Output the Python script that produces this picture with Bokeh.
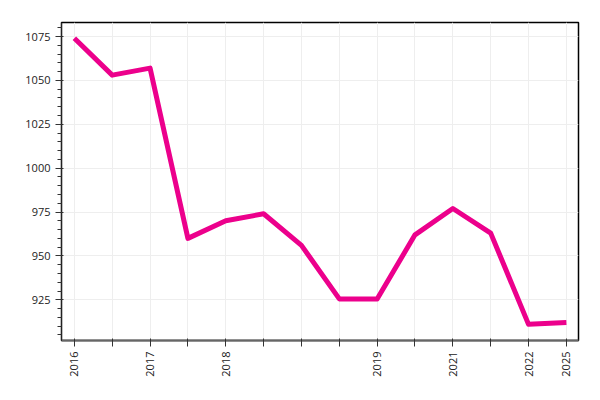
from bokeh.plotting import figure
from bokeh.models import FixedTicker, Range1d, SingleIntervalTicker
from bokeh.embed import file_html
from bokeh.resources import INLINE
import math

tick_labels = ["2016", "", "2017", "", "2018", "", "", "", "2019", "", "2021", "", "2022", "2025"]
values = [1074, 1053, 1057, 960, 970, 974, 956, 925.5, 925.5, 962, 977, 963, 911, 912]
xs = list(range(len(values)))

p = figure(width=584, height=392, output_backend="svg", toolbar_location=None,
           x_range=Range1d(-0.34, len(values) - 1 + 0.32), y_range=Range1d(901.8, 1083),
           min_border_left=61, min_border_right=6, min_border_top=22, min_border_bottom=52)

p.line(xs, values, line_color="#ec008c", line_width=5, line_join="round")

p.xaxis.ticker = FixedTicker(ticks=xs)
p.xaxis.major_label_overrides = {i: t for i, t in enumerate(tick_labels)}
p.xaxis.major_label_orientation = math.pi / 2
p.yaxis.ticker = SingleIntervalTicker(interval=25, num_minor_ticks=5)

for ax in (p.xaxis, p.yaxis):
    ax.major_label_text_font = "Open Sans"
    ax.major_label_text_font_size = "11px"
    ax.major_label_text_color = "#222222"
    ax.major_tick_line_color = "#333333"
    ax.minor_tick_line_color = "#333333"

p.yaxis.axis_line_color = "#222222"
p.xaxis.axis_line_color = "#666666"
p.xaxis.axis_line_width = 2

p.outline_line_color = "black"
p.outline_line_width = 1.5
p.xgrid.grid_line_color = "#eeeeee"
p.ygrid.grid_line_color = "#eeeeee"

open("out.html", "w").write(file_html(p, INLINE))
